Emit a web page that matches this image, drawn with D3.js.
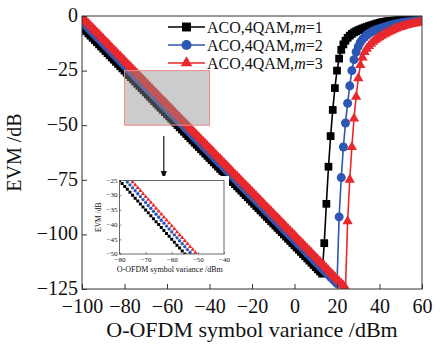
<!DOCTYPE html>
<html>
<head>
<meta charset="utf-8">
<title>EVM vs O-OFDM symbol variance</title>
<script src="https://d3js.org/d3.v7.min.js"></script>
<style>
  body { margin: 0; background: #fff; }
  svg text { font-family: 'Liberation Serif', 'DejaVu Serif', serif; fill: #111; }
</style>
</head>
<body>
<svg id="chart" width="446" height="344"></svg>
<script>
// x grid (dBm), one point per dB
const variance = [
  -100,-99,-98,-97,-96,-95,-94,-93,-92,-91,-90,-89,-88,-87,-86,-85,-84,-83,-82,-81,
  -80,-79,-78,-77,-76,-75,-74,-73,-72,-71,-70,-69,-68,-67,-66,-65,-64,-63,-62,-61,
  -60,-59,-58,-57,-56,-55,-54,-53,-52,-51,-50,-49,-48,-47,-46,-45,-44,-43,-42,-41,
  -40,-39,-38,-37,-36,-35,-34,-33,-32,-31,-30,-29,-28,-27,-26,-25,-24,-23,-22,-21,
  -20,-19,-18,-17,-16,-15,-14,-13,-12,-11,-10,-9,-8,-7,-6,-5,-4,-3,-2,-1,
  0,1,2,3,4,5,6,7,8,9,10,11,12,13,14,15,16,17,18,19,
  20,21,22,23,24,25,26,27,28,29,30,31,32,33,34,35,36,37,38,39,
  40,41,42,43,44,45,46,47,48,49,50,51,52,53,54,55,56,57,58,59,
  60
];

// EVM (dB), m = 1
const evmM1 = [
  -5,-6,-7,-8,-9,-10,-11,-12,-13,-14,
  -15,-16,-17,-18,-19,-20,-21,-22,-23,-24,
  -25,-26,-27,-28,-29,-30,-31,-32,-33,-34,
  -35,-36,-37,-38,-39,-40,-41,-42,-43,-44,
  -45,-46,-47,-48,-49,-50,-51,-52,-53,-54,
  -55,-56,-57,-58,-59,-60,-61,-62,-63,-64,
  -65,-66,-67,-68,-69,-70,-71,-72,-73,-74,
  -75,-76,-77,-78,-79,-80,-81,-82,-83,-84,
  -85,-86,-87,-88,-89,-90,-91,-92,-93,-94,
  -95,-96,-97,-98,-99,-100,-101,-102,-103,-104,
  -105,-106,-107,-108,-109,-110,-111,-112,-113,-114,
  -115,-116,-117,-118,
  -104,-86,-69,-55,-43,-33,-25,-19.5,-15.5,-13,-11.3,
  -10,-9,-8.2,-7.5,-7,-6.5,-6.1,-5.7,-5.3,-5,
  -4.6,-4.3,-4,-3.7,-3.4,-3.1,-2.9,-2.7,-2.5,-2.4,
  -2.3,-2.2,-2.1,-2,-1.9,-1.8,-1.75,-1.7,-1.65,-1.6,
  -1.55,-1.5,-1.45,-1.4,-1.35,-1.3
];

// EVM (dB), m = 2
const evmM2 = [
  -2.5,-3.5,-4.5,-5.5,-6.5,-7.5,-8.5,-9.5,-10.5,-11.5,
  -12.5,-13.5,-14.5,-15.5,-16.5,-17.5,-18.5,-19.5,-20.5,-21.5,
  -22.5,-23.5,-24.5,-25.5,-26.5,-27.5,-28.5,-29.5,-30.5,-31.5,
  -32.5,-33.5,-34.5,-35.5,-36.5,-37.5,-38.5,-39.5,-40.5,-41.5,
  -42.5,-43.5,-44.5,-45.5,-46.5,-47.5,-48.5,-49.5,-50.5,-51.5,
  -52.5,-53.5,-54.5,-55.5,-56.5,-57.5,-58.5,-59.5,-60.5,-61.5,
  -62.5,-63.5,-64.5,-65.5,-66.5,-67.5,-68.5,-69.5,-70.5,-71.5,
  -72.5,-73.5,-74.5,-75.5,-76.5,-77.5,-78.5,-79.5,-80.5,-81.5,
  -82.5,-83.5,-84.5,-85.5,-86.5,-87.5,-88.5,-89.5,-90.5,-91.5,
  -92.5,-93.5,-94.5,-95.5,-96.5,-97.5,-98.5,-99.5,-100.5,-101.5,
  -102.5,-103.5,-104.5,-105.5,-106.5,-107.5,-108.5,-109.5,-110.5,-111.5,
  -112.5,-113.5,-114.5,-115.5,-116.5,-117.5,-118.5,-119.5,-120.5,-121.5,
  -122.5,
  -92,-74,-60,-49,-40,-32,-25,-20,-16.5,-14,
  -12,-10.7,-9.6,-8.7,-8,-7.4,-6.9,-6.5,-6.1,-5.8,
  -5.5,-5.2,-4.9,-4.6,-4.3,-4,-3.8,-3.6,-3.4,-3.2,
  -3,-2.85,-2.7,-2.6,-2.5,-2.4,-2.3,-2.2,-2.1,-2
];

// EVM (dB), m = 3
const evmM3 = [
  -0.5,-1.5,-2.5,-3.5,-4.5,-5.5,-6.5,-7.5,-8.5,-9.5,
  -10.5,-11.5,-12.5,-13.5,-14.5,-15.5,-16.5,-17.5,-18.5,-19.5,
  -20.5,-21.5,-22.5,-23.5,-24.5,-25.5,-26.5,-27.5,-28.5,-29.5,
  -30.5,-31.5,-32.5,-33.5,-34.5,-35.5,-36.5,-37.5,-38.5,-39.5,
  -40.5,-41.5,-42.5,-43.5,-44.5,-45.5,-46.5,-47.5,-48.5,-49.5,
  -50.5,-51.5,-52.5,-53.5,-54.5,-55.5,-56.5,-57.5,-58.5,-59.5,
  -60.5,-61.5,-62.5,-63.5,-64.5,-65.5,-66.5,-67.5,-68.5,-69.5,
  -70.5,-71.5,-72.5,-73.5,-74.5,-75.5,-76.5,-77.5,-78.5,-79.5,
  -80.5,-81.5,-82.5,-83.5,-84.5,-85.5,-86.5,-87.5,-88.5,-89.5,
  -90.5,-91.5,-92.5,-93.5,-94.5,-95.5,-96.5,-97.5,-98.5,-99.5,
  -100.5,-101.5,-102.5,-103.5,-104.5,-105.5,-106.5,-107.5,-108.5,-109.5,
  -110.5,-111.5,-112.5,-113.5,-114.5,-115.5,-116.5,-117.5,-118.5,-119.5,
  -120.5,-121.5,-122.5,-123.5,-124.5,
  -94,-75,-60,-47,-37,-28.5,-22.5,-19,-16.5,-15,
  -13.8,-12.7,-11.8,-11,-10.3,-9.7,-9.1,-8.5,-8,-7.5,
  -7,-6.5,-6.1,-5.7,-5.3,-5,-4.7,-4.4,-4.1,-3.9,
  -3.7,-3.5,-3.3,-3.1,-2.9,-2.7
];

const xTicks = [-100, -80, -60, -40, -20, 0, 20, 40, 60];
const yTicks = [0, -25, -50, -75, -100, -125];
const insetXTicks = [-80, -70, -60, -50, -40];
const insetYTicks = [-25, -30, -35, -40, -45, -50];
const zoomBox = { x0: -80, x1: -40, y0: -25, y1: -50 };
const mValues = [1, 2, 3];

const series = [
  { m: 1, values: evmM1, color: "#000000", symbol: d3.symbolSquare,   size: 60, legendSize: 80, insetSize: 9 },
  { m: 2, values: evmM2, color: "#2c57b5", symbol: d3.symbolCircle,   size: 64, legendSize: 80, insetSize: 9 },
  { m: 3, values: evmM3, color: "#e8282c", symbol: d3.symbolTriangle, size: 46, legendSize: 58, insetSize: 8 }
];
series.forEach(s => { s.points = variance.map((v, i) => ({ x: v, y: s.values[i] })); });

const svg = d3.select("#chart");
const margin = { left: 82, top: 16, right: 24, bottom: 55 };
const W = 446, H = 344;

const x = d3.scaleLinear().domain([-100, 60]).range([margin.left, W - margin.right]);
const y = d3.scaleLinear().domain([-125, 0]).range([H - margin.bottom, margin.top]);

svg.append("clipPath").attr("id", "clipMain")
  .append("rect")
  .attr("x", x(-100)).attr("y", y(0))
  .attr("width", x(60) - x(-100)).attr("height", y(-125) - y(0));

// curves
const plot = svg.append("g").attr("clip-path", "url(#clipMain)");
series.forEach(s => {
  const line = d3.line().x(d => x(d.x)).y(d => y(d.y));
  plot.append("path")
    .datum(s.points)
    .attr("d", line)
    .attr("fill", "none")
    .attr("stroke", s.color)
    .attr("stroke-width", 1.6);
  plot.selectAll(null)
    .data(s.points)
    .join("path")
    .attr("transform", d => `translate(${x(d.x)},${y(d.y)})`)
    .attr("d", d3.symbol().type(s.symbol).size(s.size))
    .attr("fill", s.color);
});

// zoom region
svg.append("rect")
  .attr("x", x(zoomBox.x0)).attr("y", y(zoomBox.y0))
  .attr("width", x(zoomBox.x1) - x(zoomBox.x0))
  .attr("height", y(zoomBox.y1) - y(zoomBox.y0))
  .attr("fill", "#8f8f8f")
  .attr("fill-opacity", 0.45)
  .attr("stroke", "#f08a8a")
  .attr("stroke-width", 1);

// arrow
const ax = x(-61.5);
svg.append("line")
  .attr("x1", ax).attr("x2", ax)
  .attr("y1", y(-55)).attr("y2", y(-72))
  .attr("stroke", "#111").attr("stroke-width", 1.2);
svg.append("path")
  .attr("d", `M${ax - 3},${y(-71)} L${ax + 3},${y(-71)} L${ax},${y(-75)} Z`)
  .attr("fill", "#111");

// frame + axes
svg.append("rect")
  .attr("x", x(-100)).attr("y", y(0))
  .attr("width", x(60) - x(-100)).attr("height", y(-125) - y(0))
  .attr("fill", "none").attr("stroke", "#333").attr("stroke-width", 1);

const xAxis = svg.append("g")
  .attr("transform", `translate(0,${y(-125)})`)
  .call(d3.axisBottom(x).tickValues(xTicks).tickSize(-5).tickPadding(10));
const yAxis = svg.append("g")
  .attr("transform", `translate(${x(-100)},0)`)
  .call(d3.axisLeft(y).tickValues(yTicks).tickSize(-5).tickPadding(4));
[xAxis, yAxis].forEach(g => {
  g.select(".domain").remove();
  g.selectAll(".tick line").attr("stroke", "#333");
  g.selectAll("text").attr("font-size", 20).attr("font-family", "'Liberation Serif', serif").attr("fill", "#111");
});
yAxis.selectAll("text").attr("dy", "0.26em");

svg.append("text")
  .attr("x", (x(-100) + x(60)) / 2).attr("y", 337)
  .attr("text-anchor", "middle").attr("font-size", 22)
  .text("O-OFDM symbol variance /dBm");
svg.append("text")
  .attr("transform", `translate(21,${(y(0) + y(-125)) / 2}) rotate(-90)`)
  .attr("text-anchor", "middle").attr("font-size", 20)
  .text("EVM /dB");

// legend
const legend = svg.append("g");
series.forEach((s, i) => {
  const ly = 27 + i * 18;
  legend.append("line")
    .attr("x1", 168).attr("x2", 205).attr("y1", ly).attr("y2", ly)
    .attr("stroke", s.color).attr("stroke-width", 1.6);
  legend.append("path")
    .attr("transform", `translate(186.5,${ly})`)
    .attr("d", d3.symbol().type(s.symbol).size(s.legendSize))
    .attr("fill", s.color);
  const t = legend.append("text")
    .attr("x", 207).attr("y", ly + 5.5).attr("font-size", 16);
  t.append("tspan").text("ACO,4QAM,");
  t.append("tspan").attr("font-style", "italic").text("m");
  t.append("tspan").text("=" + mValues[i]);
});

// inset
const ix = d3.scaleLinear().domain([-80, -40]).range([119.5, 224]);
const iy = d3.scaleLinear().domain([-50, -25]).range([254, 180.5]);
const inset = svg.append("g");
inset.append("rect")
  .attr("x", 93).attr("y", 176).attr("width", 136).attr("height", 101)
  .attr("fill", "#fff");
inset.append("clipPath").attr("id", "clipInset")
  .append("rect")
  .attr("x", ix(-80)).attr("y", iy(-25))
  .attr("width", ix(-40) - ix(-80)).attr("height", iy(-50) - iy(-25));
const ip = inset.append("g").attr("clip-path", "url(#clipInset)");
series.forEach(s => {
  ip.selectAll(null)
    .data(s.points.filter(d => d.x >= -82 && d.x <= -38))
    .join("path")
    .attr("transform", d => `translate(${ix(d.x)},${iy(d.y)})`)
    .attr("d", d3.symbol().type(s.symbol).size(s.insetSize))
    .attr("fill", s.color);
});
inset.append("rect")
  .attr("x", ix(-80)).attr("y", iy(-25))
  .attr("width", ix(-40) - ix(-80)).attr("height", iy(-50) - iy(-25))
  .attr("fill", "none").attr("stroke", "#444").attr("stroke-width", 0.8);
const ixAxis = inset.append("g")
  .attr("transform", `translate(0,${iy(-50)})`)
  .call(d3.axisBottom(ix).tickValues(insetXTicks).tickSize(-2).tickPadding(3));
const iyAxis = inset.append("g")
  .attr("transform", `translate(${ix(-80)},0)`)
  .call(d3.axisLeft(iy).tickValues(insetYTicks).tickSize(-2).tickPadding(2));
[ixAxis, iyAxis].forEach(g => {
  g.select(".domain").remove();
  g.selectAll(".tick line").attr("stroke", "#444").attr("stroke-width", 0.6);
  g.selectAll("text").attr("font-size", 7).attr("font-family", "'Liberation Serif', serif").attr("fill", "#333");
});
iyAxis.selectAll("text").attr("dy", "0.25em");
inset.append("text")
  .attr("x", (ix(-80) + ix(-40)) / 2 - 2).attr("y", 272)
  .attr("text-anchor", "middle").attr("font-size", 8).attr("fill", "#333")
  .text("O-OFDM symbol variance /dBm");
inset.append("text")
  .attr("transform", `translate(101,${(iy(-25) + iy(-50)) / 2}) rotate(-90)`)
  .attr("text-anchor", "middle").attr("font-size", 7.5).attr("fill", "#333")
  .text("EVM /dB");
</script>
</body>
</html>
